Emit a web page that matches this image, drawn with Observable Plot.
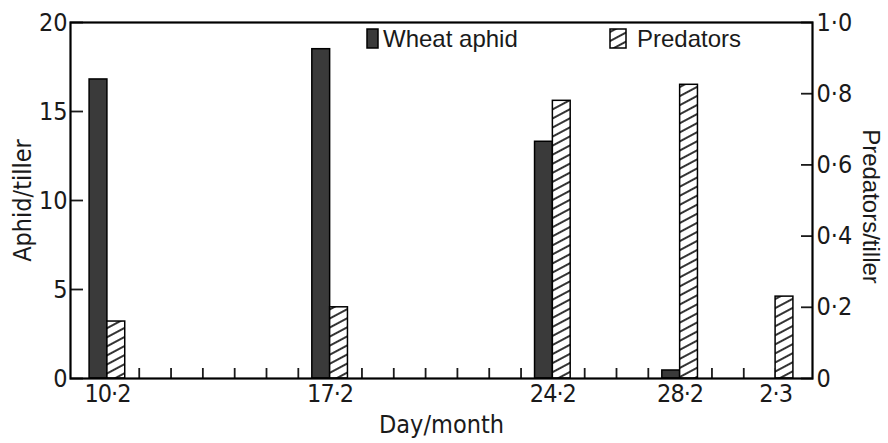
<!DOCTYPE html>
<html><head><meta charset="utf-8">
<script src="https://cdn.jsdelivr.net/npm/d3@7"></script>
<script src="https://cdn.jsdelivr.net/npm/@observablehq/plot@0.6"></script>
<style>
body{margin:0;background:#fff;}
#wrap{position:relative;width:888px;height:443px;}
.lg{position:absolute;font-family:"Liberation Sans",Arial,sans-serif;font-size:24px;color:#1a1a1a;line-height:1;white-space:nowrap;}
.lg svg{position:absolute;}
g[aria-label="x-axis tick label"] text{letter-spacing:-1px;}
</style></head><body>
<div id="wrap"></div>
<script>
// ---- data ----
const dates = ["1988-02-10", "1988-02-17", "1988-02-24", "1988-02-28", "1988-03-02"];
const dateLabels = ["10·2", "17·2", "24·2", "28·2", "2·3"];
const aphid = [16.8, 18.5, 13.3, 0.45, 0];          // aphids per tiller (left axis)
const predators = [0.16, 0.20, 0.78, 0.825, 0.23];   // predators per tiller (right axis)
const aphidTicks = [0, 5, 10, 15, 20];
const predTicks = [0, 0.2, 0.4, 0.6, 0.8, 1.0];
const predTickLabels = ["0", "0·2", "0·4", "0·6", "0·8", "1·0"];

const DAY = 864e5;
const parse = d3.utcParse("%Y-%m-%d");
const rows = dates.map((d, i) => ({date: parse(d), label: dateLabels[i], aphid: aphid[i], predators: predators[i]}));
const labelMap = new Map(rows.map(r => [+r.date, r.label]));
const ratio = 20 / 1.0; // left max / right max
const predLabelMap = new Map(predTicks.map((v, i) => [Math.round(v * ratio), predTickLabels[i]]));
const half = 0.56 * DAY;
const days = d3.utcDay.range(rows[0].date, new Date(+rows[rows.length - 1].date + DAY));
const tickFont = '"Liberation Sans Narrow","DejaVu Sans Condensed",Roboto,sans-serif';
const titleFont = '"Liberation Sans",Arial,sans-serif';

const chart = Plot.plot({
  width: 888, height: 443,
  marginTop: 22, marginBottom: 65, marginLeft: 70, marginRight: 76,
  style: {fontFamily: titleFont, fontSize: "24px", color: "#1a1a1a", background: "#fff", overflow: "visible"},
  x: {type: "utc", domain: [new Date(+rows[0].date - 1.16 * DAY), new Date(+rows[rows.length - 1].date + 1.16 * DAY)]},
  y: {domain: [0, 20]},
  marks: [
    Plot.axisX({ticks: days, tickSize: -10, tickFormat: () => "", label: null, strokeWidth: 1.8}),
    Plot.axisX({ticks: rows.map(r => r.date), tickSize: 0, tickPadding: 6, tickFormat: d => labelMap.get(+d),
      fontFamily: tickFont, fontSize: 25, label: "Day/month", labelAnchor: "center", labelOffset: 54, labelArrow: "none"}),
    Plot.axisY({anchor: "left", ticks: aphidTicks, tickSize: -13, tickPadding: 16, tickFormat: d => String(d),
      fontFamily: tickFont, fontSize: 25, strokeWidth: 1.8, label: "Aphid/tiller", labelAnchor: "center", labelOffset: 57, labelArrow: "none"}),
    Plot.axisY({anchor: "right", ticks: predTicks.map(v => v * ratio), tickSize: -12, tickPadding: 16,
      tickFormat: d => predLabelMap.get(Math.round(d)), fontFamily: tickFont, fontSize: 25, strokeWidth: 1.8, label: null}),
    Plot.text(["Predators/tiller"], {frameAnchor: "right", dx: 58, dy: 6, rotate: 90, text: d => d,
      fontFamily: titleFont, fontSize: 24, lineAnchor: "middle", textAnchor: "middle", fill: "#1a1a1a"}),
    Plot.rectY(rows.filter(r => r.aphid > 0), {x1: r => new Date(+r.date - half), x2: "date", y: "aphid",
      fill: "#3a3a3a", stroke: "#000", strokeWidth: 1.5}),
    Plot.rectY(rows.filter(r => r.predators > 0), {x1: "date", x2: r => new Date(+r.date + half), y: r => r.predators * ratio,
      fill: "url(#hatch)", stroke: "#000", strokeWidth: 1.5}),
    Plot.frame({stroke: "#000", strokeWidth: 2.2})
  ]
});

// hatch pattern definition
const ns = "http://www.w3.org/2000/svg";
function addHatch(svg, id) {
  const defs = document.createElementNS(ns, "defs");
  defs.innerHTML = `<pattern id="${id}" patternUnits="userSpaceOnUse" width="12" height="8" patternTransform="rotate(-28)">
    <rect width="12" height="8" fill="#fff"/><line x1="0" y1="4" x2="12" y2="4" stroke="#000" stroke-width="1.6"/></pattern>`;
  svg.insertBefore(defs, svg.firstChild);
}
addHatch(chart, "hatch");
const wrap = document.getElementById("wrap");
wrap.appendChild(chart);

// legend (inside the plot area, top)
const legend = [
  {x: 367, label: "Wheat aphid", w: 11, gap: 5, fill: "#3a3a3a"},
  {x: 610, label: "Predators", w: 16, gap: 11, fill: "url(#hatch2)"}
];
legend.forEach((l, i) => {
  const d = document.createElement("div");
  d.className = "lg";
  d.style.left = l.x + "px";
  d.style.top = "29px";
  d.style.height = "19px";
  const sw = document.createElementNS(ns, "svg");
  sw.setAttribute("width", l.w + 2); sw.setAttribute("height", 21);
  sw.style.left = "-1px"; sw.style.top = "-1px";
  if (i === 1) addHatch(sw, "hatch2");
  const r = document.createElementNS(ns, "rect");
  r.setAttribute("x", 1); r.setAttribute("y", 1); r.setAttribute("width", l.w); r.setAttribute("height", 19);
  r.setAttribute("fill", l.fill); r.setAttribute("stroke", "#000"); r.setAttribute("stroke-width", 1.5);
  sw.appendChild(r);
  d.appendChild(sw);
  const t = document.createElement("span");
  t.textContent = l.label;
  t.style.position = "absolute"; t.style.left = (l.w + l.gap) + "px"; t.style.top = "-2px";
  d.appendChild(t);
  wrap.appendChild(d);
});
</script>
</body></html>
